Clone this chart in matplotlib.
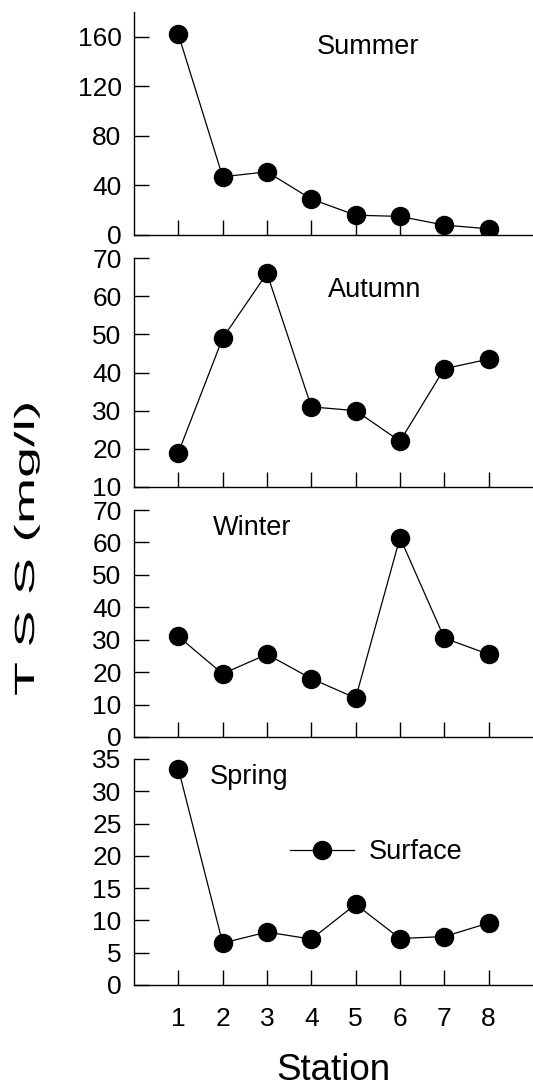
import matplotlib
matplotlib.use("Agg")
import matplotlib.pyplot as plt
from matplotlib.patheffects import AbstractPathEffect
from matplotlib.transforms import Affine2D

plt.rcParams["font.family"] = ["Liberation Sans", "DejaVu Sans"]

stations = [1, 2, 3, 4, 5, 6, 7, 8]
summer = [162, 47, 51, 29, 16, 15, 8, 5]
autumn = [19, 49, 66, 31, 30, 22, 41, 43.5]
winter = [31, 19.5, 25.5, 18, 12, 61.5, 30.5, 25.5]
spring = [33.5, 6.5, 8.2, 7.1, 12.5, 7.2, 7.5, 9.6]

seasons = ["Summer", "Autumn", "Winter", "Spring"]
series = [summer, autumn, winter, spring]
ylims = [(0, 180), (10, 70), (0, 70), (0, 35)]
yticks = [range(0, 161, 40), range(10, 71, 10), range(0, 71, 10), range(0, 36, 5)]
label_pos = [(317, 47), (328, 290), (213, 528), (210, 777)]

# axes boxes in pixels: top, bottom
boxes = [(12, 235), (258, 487), (510, 737), (759, 985)]

W, H = 533, 1089


class Stretch(AbstractPathEffect):
    """stretch the glyphs of a text about a point (display pixels)"""
    def __init__(self, sx, sy, cx, cy):
        super().__init__()
        self.sx, self.sy, self.cx, self.cy = sx, sy, cx, cy

    def draw_path(self, renderer, gc, tpath, affine, rgbFace=None):
        t = affine + Affine2D().translate(-self.cx, -self.cy) \
            .scale(self.sx, self.sy).translate(self.cx, self.cy)
        renderer.draw_path(gc, tpath, t, rgbFace)


fig = plt.figure(figsize=(W / 100, H / 100), dpi=100)

axes = []
for i, (top, bot) in enumerate(boxes):
    ax = fig.add_axes([134 / W, 1 - bot / H, 399 / W, (bot - top) / H])
    line, = ax.plot(stations, series[i], "-o", color="black", lw=0.9,
                    markersize=13, label="Surface")
    ax.set_xlim(0, 9)
    ax.set_ylim(*ylims[i])
    ax.set_yticks(list(yticks[i]))
    ax.set_xticks(stations)
    for s in ["top", "right"]:
        ax.spines[s].set_visible(False)
    for s in ["left", "bottom"]:
        ax.spines[s].set_linewidth(1.0)
    ax.tick_params(direction="in", length=11, width=1.0, labelsize=19, pad=9)
    ax.tick_params(axis="x", length=11, pad=16)
    if i < 3:
        ax.tick_params(axis="x", labelbottom=False)
    x, y = label_pos[i]
    fig.text(x / W, 1 - y / H, seasons[i], fontsize=19.5, va="center", ha="left")
    axes.append(ax)

axes[3].legend(handles=[line], loc="center left",
               bbox_to_anchor=((290 - 134) / 399, (985 - 852) / 226),
               frameon=False, fontsize=19.5, handlelength=2.35,
               handletextpad=0.55, borderpad=0, borderaxespad=0)

fig.text(27 / W, 1 - 548 / H, "T S S (mg/l)", rotation=90, fontsize=20,
         va="center", ha="center",
         path_effects=[Stretch(1.0, 2.0, 27, H - 548)])
fig.text(333 / W, 1 - 1070 / H, "Station", fontsize=26.5, va="center", ha="center")

fig.savefig("out.png", dpi=100)
